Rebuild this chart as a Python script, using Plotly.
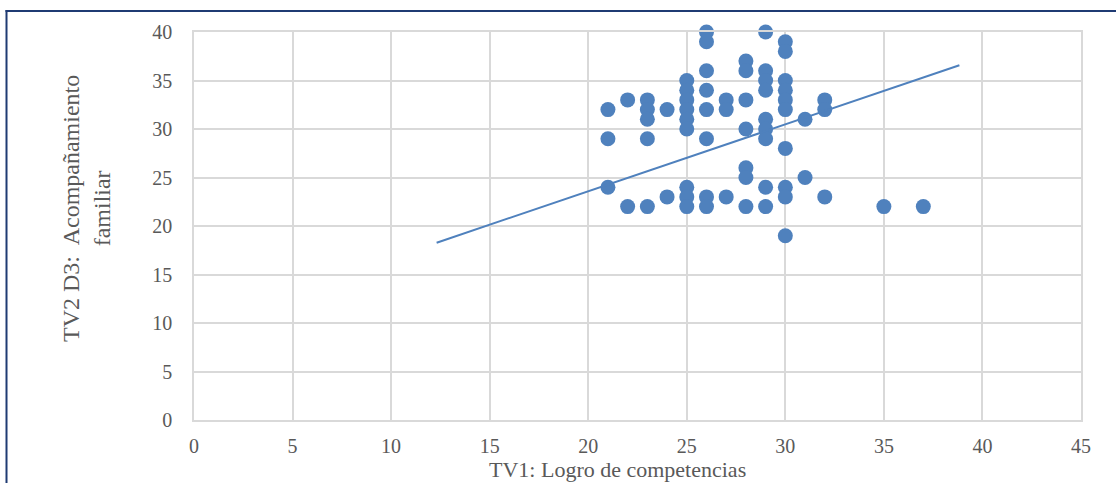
import plotly.graph_objects as go

# Data
tv1 = ([21]*3 + [22]*2 + [23]*5 + [24]*2 + [25]*9 + [26]*8 + [27]*3 +
       [28]*7 + [29]*9 + [30]*10 + [31]*2 + [32]*3 + [35] + [37])
tv2_d3 = ([32, 29, 24] +
          [33, 22] +
          [33, 32, 31, 29, 22] +
          [32, 23] +
          [35, 34, 33, 32, 31, 30, 24, 23, 22] +
          [40, 39, 36, 34, 32, 29, 23, 22] +
          [33, 32, 23] +
          [37, 36, 33, 30, 26, 25, 22] +
          [40, 36, 35, 34, 31, 30, 29, 24, 22] +
          [39, 38, 35, 34, 33, 32, 28, 24, 23, 19] +
          [31, 25] +
          [33, 32, 23] +
          [22] +
          [22])

trend_x = [12.31, 38.83]
trend_y = [18.28, 36.57]

x_ticks = [0, 5, 10, 15, 20, 25, 30, 35, 40, 45]
y_ticks = [0, 5, 10, 15, 20, 25, 30, 35, 40]

x_title = "TV1: Logro de competencias"
y_title = "TV2 D3:  Acompañamiento<br>familiar"

BLUE = "#4F81BD"
GRID = "#D9D9D9"
TEXT = "#595959"
FONT = "Liberation Serif"

fig = go.Figure()
fig.add_trace(go.Scatter(x=tv1, y=tv2_d3, mode="markers", cliponaxis=False,
                         marker=dict(size=15, color=BLUE), showlegend=False))
fig.add_trace(go.Scatter(x=trend_x, y=trend_y, mode="lines",
                         line=dict(color=BLUE, width=2), showlegend=False))

W, H = 1116, 483
L, R, T, B = 194, 35, 32, 63
pw, ph = W - L - R, H - T - B

def px(x):
    return (x - L) / pw

def py(y):
    return (H - B - y) / ph

fig.update_layout(
    width=W, height=H,
    margin=dict(l=L, r=R, t=T, b=B, pad=0),
    paper_bgcolor="white", plot_bgcolor="white",
    font=dict(family=FONT, color=TEXT, size=20),
    xaxis=dict(range=[0, 45], tickvals=x_ticks, showgrid=True, gridcolor=GRID,
               gridwidth=1.5, zeroline=False, showline=True, linecolor=GRID,
               linewidth=1.5, mirror=True, ticks="", ticklabelstandoff=7,
               tickfont=dict(size=20, color=TEXT, family=FONT)),
    yaxis=dict(range=[0, 40], tickvals=y_ticks, showgrid=True, gridcolor=GRID,
               gridwidth=1.5, zeroline=False, showline=True, linecolor=GRID,
               linewidth=1.5, mirror=True, ticks="", ticklabelstandoff=16,
               tickfont=dict(size=20, color=TEXT, family=FONT)),
    annotations=[
        dict(text=x_title, xref="paper", yref="paper", x=px(617), y=py(469),
             xanchor="center", yanchor="middle", showarrow=False,
             font=dict(size=22, color=TEXT, family=FONT)),
        dict(text=y_title, xref="paper", yref="paper", x=px(86), y=py(209),
             xanchor="center", yanchor="middle", showarrow=False, textangle=-90,
             font=dict(size=24, color=TEXT, family=FONT)),
    ],
    shapes=[
        dict(type="line", xref="paper", yref="paper", x0=px(6.5), x1=px(6.5),
             y0=py(10), y1=py(490), line=dict(color="#1F3B73", width=2)),
        dict(type="line", xref="paper", yref="paper", x0=px(5.5), x1=px(1120),
             y0=py(11), y1=py(11), line=dict(color="#1F3B73", width=2)),
    ],
)

fig.write_html("out.html", config={"displayModeBar": False},
               post_script="document.body.style.margin='0';document.body.style.overflow='hidden';")
